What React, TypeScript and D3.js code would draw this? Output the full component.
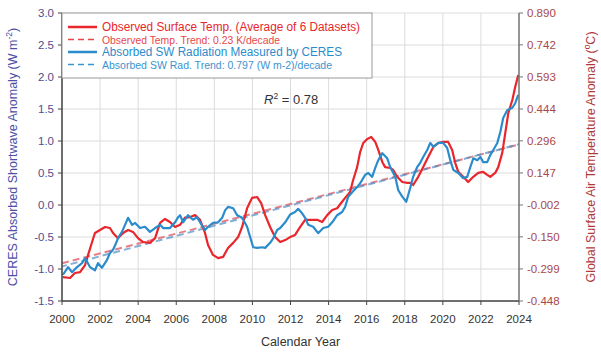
import React from "react";
import * as d3 from "d3";

// Absorbed shortwave anomaly (W m-2), CERES, [year, value]
const swSeries: [number, number][] = [
  [2000.05, -1.09], [2000.32, -0.97], [2000.53, -1.05], [2000.79, -0.97], [2001.05, -0.91],
  [2001.21, -0.83], [2001.47, -0.97], [2001.73, -1.02], [2001.89, -0.91], [2002.1, -0.98],
  [2002.36, -0.86], [2002.52, -0.75], [2002.68, -0.7], [2002.79, -0.63], [2002.94, -0.52],
  [2003.15, -0.42], [2003.31, -0.31], [2003.47, -0.2], [2003.68, -0.31], [2003.84, -0.28],
  [2004.1, -0.36], [2004.36, -0.34], [2004.62, -0.42], [2004.89, -0.36], [2005.15, -0.31],
  [2005.31, -0.36], [2005.67, -0.36], [2005.94, -0.27], [2006.1, -0.19], [2006.2, -0.16],
  [2006.36, -0.27], [2006.62, -0.16], [2006.88, -0.23], [2007.09, -0.19], [2007.25, -0.27],
  [2007.51, -0.39], [2007.67, -0.34], [2007.93, -0.28], [2008.2, -0.27], [2008.41, -0.2],
  [2008.57, -0.08], [2008.72, -0.03], [2008.99, -0.05], [2009.2, -0.16], [2009.46, -0.2],
  [2009.72, -0.34], [2009.88, -0.5], [2010.04, -0.66], [2010.25, -0.67], [2010.51, -0.66],
  [2010.67, -0.67], [2010.93, -0.59], [2011.09, -0.52], [2011.3, -0.39], [2011.46, -0.36],
  [2011.72, -0.27], [2011.98, -0.15], [2012.24, -0.11], [2012.4, -0.06], [2012.61, -0.13],
  [2012.77, -0.2], [2012.93, -0.31], [2013.19, -0.34], [2013.45, -0.44], [2013.72, -0.36],
  [2013.98, -0.34], [2014.19, -0.27], [2014.45, -0.16], [2014.71, -0.11], [2014.87, -0.03],
  [2015.03, 0.13], [2015.24, 0.2], [2015.5, 0.28], [2015.66, 0.34], [2015.92, 0.47],
  [2016.08, 0.5], [2016.29, 0.44], [2016.45, 0.58], [2016.61, 0.7], [2016.82, 0.81],
  [2017.08, 0.73], [2017.24, 0.59], [2017.5, 0.44], [2017.66, 0.23], [2017.87, 0.13],
  [2018.08, 0.05], [2018.29, 0.27], [2018.44, 0.44], [2018.65, 0.59], [2018.81, 0.66],
  [2018.97, 0.75], [2019.18, 0.86], [2019.34, 0.97], [2019.5, 0.91], [2019.76, 0.97],
  [2020.02, 0.97], [2020.23, 0.89], [2020.39, 0.7], [2020.55, 0.55], [2020.81, 0.5],
  [2021.07, 0.42], [2021.28, 0.44], [2021.44, 0.59], [2021.6, 0.73], [2021.81, 0.7],
  [2021.97, 0.75], [2022.12, 0.67], [2022.33, 0.67], [2022.49, 0.78], [2022.65, 0.86],
  [2022.86, 0.97], [2023.02, 1.14], [2023.17, 1.36], [2023.38, 1.48], [2023.65, 1.52],
  [2023.8, 1.59], [2023.96, 1.72],
];

// Observed surface temperature anomaly (°C), average of 6 datasets
const tempSeries: [number, number][] = [
  [2000.05, -0.337], [2000.42, -0.341], [2000.68, -0.318], [2000.95, -0.314], [2001.21, -0.281],
  [2001.37, -0.234], [2001.58, -0.174], [2001.73, -0.132], [2002.0, -0.118], [2002.26, -0.104],
  [2002.52, -0.109], [2002.68, -0.132], [2002.94, -0.156], [2003.21, -0.132], [2003.47, -0.118],
  [2003.73, -0.127], [2003.99, -0.156], [2004.26, -0.174], [2004.62, -0.178], [2004.89, -0.156],
  [2005.15, -0.085], [2005.41, -0.067], [2005.67, -0.081], [2005.94, -0.104], [2006.2, -0.094],
  [2006.46, -0.061], [2006.73, -0.058], [2006.99, -0.049], [2007.25, -0.071], [2007.51, -0.132],
  [2007.67, -0.188], [2007.93, -0.234], [2008.2, -0.249], [2008.46, -0.243], [2008.72, -0.202],
  [2008.99, -0.178], [2009.25, -0.151], [2009.46, -0.104], [2009.72, -0.017], [2009.98, 0.031],
  [2010.25, 0.035], [2010.46, 0.007], [2010.67, -0.049], [2010.93, -0.104], [2011.19, -0.151],
  [2011.46, -0.174], [2011.72, -0.165], [2011.98, -0.151], [2012.24, -0.141], [2012.51, -0.104],
  [2012.77, -0.071], [2013.03, -0.071], [2013.4, -0.071], [2013.66, -0.081], [2013.93, -0.049],
  [2014.19, -0.025], [2014.45, -0.017], [2014.71, 0.013], [2014.87, 0.031], [2015.13, 0.058],
  [2015.29, 0.114], [2015.5, 0.174], [2015.66, 0.245], [2015.82, 0.286], [2016.03, 0.305],
  [2016.24, 0.314], [2016.45, 0.291], [2016.61, 0.254], [2016.82, 0.198], [2016.97, 0.174],
  [2017.24, 0.17], [2017.39, 0.161], [2017.6, 0.129], [2017.87, 0.105], [2018.13, 0.101],
  [2018.29, 0.101], [2018.44, 0.091], [2018.71, 0.129], [2018.97, 0.174], [2019.23, 0.221],
  [2019.5, 0.268], [2019.76, 0.286], [2020.02, 0.291], [2020.28, 0.291], [2020.49, 0.254],
  [2020.65, 0.194], [2020.81, 0.152], [2021.07, 0.129], [2021.33, 0.105], [2021.6, 0.129],
  [2021.86, 0.147], [2022.12, 0.152], [2022.33, 0.138], [2022.49, 0.129], [2022.75, 0.147],
  [2022.91, 0.174], [2023.12, 0.24], [2023.28, 0.333], [2023.44, 0.426], [2023.65, 0.486],
  [2023.8, 0.546], [2023.96, 0.602],
];

// linear trend end points (2000, 2024)
const swTrend: [number, number][] = [[2000, -0.96], [2024, 0.95]];
const tempTrend: [number, number][] = [[2000, -0.273], [2024, 0.279]];

const yearTicks = [2000, 2002, 2004, 2006, 2008, 2010, 2012, 2014, 2016, 2018, 2020, 2022, 2024];
const swTicks = [-1.5, -1.0, -0.5, 0.0, 0.5, 1.0, 1.5, 2.0, 2.5, 3.0];
const tempTicks = [-0.448, -0.299, -0.15, -0.002, 0.147, 0.296, 0.444, 0.593, 0.742, 0.89];

const legendItems = [
  { label: "Observed Surface Temp. (Average of 6 Datasets)", color: "#e8262c", dash: false, size: 12, len: 258 },
  { label: "Observed Temp. Trend: 0.23 K/decade", color: "#e8464a", dash: true, size: 10.6, len: 178 },
  { label: "Absorbed SW Radiation Measured by CERES", color: "#2a8ccc", dash: false, size: 12, len: 240 },
  { label: "Absorbed SW Rad. Trend: 0.797 (W m-2)/decade", color: "#3a94d0", dash: true, size: 10.6, len: 230 },
];

const App = () => {
  const W = 601, H = 353;
  const left = 62, right = 519, top = 13, bottom = 301;
  const font = "Liberation Sans, Arial, sans-serif";

  const x = d3.scaleLinear().domain([2000, 2024]).range([left, right]);
  const ySW = d3.scaleLinear().domain([-1.5, 3.0]).range([bottom, top]);
  const yT = d3.scaleLinear().domain([-0.448, 0.89]).range([bottom, top]);

  const swLine = d3.line<[number, number]>().x(d => x(d[0])).y(d => ySW(d[1]));
  const tLine = d3.line<[number, number]>().x(d => x(d[0])).y(d => yT(d[1]));

  return (
    <svg width={W} height={H} style={{ position: "fixed", left: 0, top: 0, background: "#fff" }} fontFamily={font}>
      {/* grid */}
      {yearTicks.map(t => (
        <line key={"gx" + t} x1={x(t)} x2={x(t)} y1={top} y2={bottom} stroke="#dcdcdc" strokeWidth={1} />
      ))}
      {swTicks.map(t => (
        <line key={"gy" + t} x1={left} x2={right} y1={ySW(t)} y2={ySW(t)} stroke="#dcdcdc" strokeWidth={1} />
      ))}

      {/* trends */}
      <path d={tLine(tempTrend) || ""} fill="none" stroke="#e06a74" strokeWidth={2} strokeDasharray="7,4" opacity={0.85} />
      <path d={swLine(swTrend) || ""} fill="none" stroke="#4f8fc4" strokeWidth={2} strokeDasharray="7,4" strokeDashoffset={2} opacity={0.7} />

      {/* series */}
      <path d={tLine(tempSeries) || ""} fill="none" stroke="#e8262c" strokeWidth={2.2} strokeLinejoin="round" />
      <path d={swLine(swSeries) || ""} fill="none" stroke="#2a8ccc" strokeWidth={2.2} strokeLinejoin="round" />

      {/* axes */}
      <line x1={left} x2={left} y1={top} y2={bottom} stroke="#444" strokeWidth={1.5} />
      <line x1={left} x2={right} y1={bottom} y2={bottom} stroke="#444" strokeWidth={1.5} />
      <line x1={right} x2={right} y1={top} y2={bottom} stroke="#777" strokeWidth={1.5} />

      {swTicks.map(t => (
        <g key={"ly" + t}>
          <line x1={left - 4} x2={left} y1={ySW(t)} y2={ySW(t)} stroke="#444" />
          <text x={left - 8} y={ySW(t) + 4} textAnchor="end" fontSize={11.5} fill="#4e4e8e">
            {t.toFixed(1)}
          </text>
        </g>
      ))}
      {tempTicks.map(t => (
        <g key={"ry" + t}>
          <line x1={right} x2={right + 4} y1={yT(t)} y2={yT(t)} stroke="#777" />
          <text x={right + 8} y={yT(t) + 4} textAnchor="start" fontSize={11.5} fill="#a84848">
            {t.toFixed(3)}
          </text>
        </g>
      ))}
      {yearTicks.map(t => (
        <g key={"xt" + t}>
          <line x1={x(t)} x2={x(t)} y1={bottom} y2={bottom + 4} stroke="#444" />
          <text x={x(t)} y={bottom + 22} textAnchor="middle" fontSize={11.5} fill="#333">
            {t}
          </text>
        </g>
      ))}

      {/* axis titles */}
      <text x={left + (right - left) / 2 + 10} y={346} textAnchor="middle" fontSize={12.5} fill="#333">
        Calendar Year
      </text>
      <text transform={`translate(17, ${(top + bottom) / 2}) rotate(-90)`} textAnchor="middle" fontSize={12.5} fill="#4e4ea6">
        CERES Absorbed Shortwave Anomaly (W m<tspan dy={-5} fontSize={8.5}>-2</tspan><tspan dy={5}>)</tspan>
      </text>
      <text transform={`translate(595, ${(top + bottom) / 2}) rotate(-90)`} textAnchor="middle" fontSize={12.5} fill="#b03a3a">
        Global Surface Air Temperature Anomaly (<tspan dy={-5} fontSize={8.5}>o</tspan><tspan dy={5}>C)</tspan>
      </text>

      {/* legend */}
      <rect x={left} y={top} width={310} height={65} fill="#fff" stroke="#999" strokeWidth={1} />
      {legendItems.map((d, i) => {
        const yy = top + 14 + i * 12.5;
        return (
          <g key={d.label}>
            <line x1={68} x2={97} y1={yy} y2={yy} stroke={d.color} strokeWidth={d.dash ? 1.5 : 2.5}
              strokeDasharray={d.dash ? "6,4" : undefined} />
            <text x={102} y={yy + 4} fontSize={d.size} fill={d.color}
              textLength={d.len} lengthAdjust="spacingAndGlyphs">{d.label}</text>
          </g>
        );
      })}

      {/* R squared */}
      <text x={264} y={104} fontSize={13} fill="#333">
        <tspan fontStyle="italic">R</tspan><tspan dy={-5} fontSize={8.5}>2</tspan><tspan dy={5}> = 0.78</tspan>
      </text>
    </svg>
  );
};

export default App;
